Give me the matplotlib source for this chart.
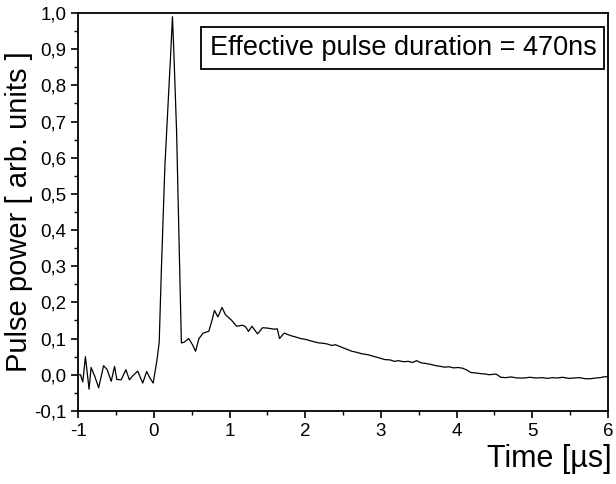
import matplotlib
matplotlib.use('Agg')
import matplotlib.pyplot as plt
from matplotlib.ticker import MultipleLocator, FuncFormatter

time_us = [
    -1.0, -0.97, -0.94, -0.905, -0.857, -0.83, -0.78, -0.73, -0.665, -0.62,
    -0.564, -0.52, -0.49, -0.433, -0.37, -0.324, -0.28, -0.214, -0.148, -0.096,
    -0.05, -0.01, 0.04, 0.07, 0.10, 0.145, 0.19, 0.22, 0.245, 0.262,
    0.30, 0.33, 0.363, 0.40, 0.43, 0.46, 0.51, 0.55, 0.595, 0.65,
    0.725, 0.77, 0.80, 0.845, 0.90, 0.945, 1.02, 1.093, 1.17, 1.21,
    1.25, 1.295, 1.37, 1.435, 1.50, 1.59, 1.63, 1.66, 1.72, 1.81,
    1.88, 1.94, 2.0, 2.05, 2.12, 2.18, 2.24, 2.29, 2.35, 2.40,
    2.47, 2.53, 2.615, 2.68, 2.75, 2.835, 2.9, 2.97, 3.05, 3.12,
    3.18, 3.23, 3.3, 3.36, 3.42, 3.47, 3.53, 3.6, 3.67, 3.73,
    3.79, 3.84, 3.9, 3.96, 4.02, 4.08, 4.125, 4.19, 4.25, 4.32,
    4.38, 4.43, 4.52, 4.585, 4.65, 4.72, 4.8, 4.89, 4.97, 5.05,
    5.13, 5.2, 5.27, 5.33, 5.4, 5.48, 5.55, 5.62, 5.7, 5.77,
    5.84, 5.9, 5.94, 6.0,
]
power = [
    0.0, 0.0, -0.02, 0.05, -0.04, 0.02, -0.005, -0.036, 0.025, 0.015,
    -0.018, 0.023, -0.013, -0.014, 0.014, -0.014, -0.003, 0.01, -0.023, 0.009,
    -0.01, -0.023, 0.04, 0.09, 0.30, 0.577, 0.76, 0.88, 0.99, 0.90,
    0.67, 0.39, 0.088, 0.09, 0.095, 0.10, 0.083, 0.065, 0.10, 0.115,
    0.12, 0.152, 0.178, 0.16, 0.186, 0.166, 0.152, 0.134, 0.137, 0.133,
    0.12, 0.134, 0.113, 0.13, 0.129, 0.126, 0.127, 0.10, 0.115, 0.108,
    0.104, 0.10, 0.098, 0.095, 0.091, 0.088, 0.087, 0.085, 0.081, 0.083,
    0.077, 0.072, 0.065, 0.062, 0.058, 0.055, 0.051, 0.047, 0.042, 0.041,
    0.037, 0.039, 0.036, 0.037, 0.034, 0.039, 0.033, 0.031, 0.028, 0.025,
    0.023, 0.021, 0.022, 0.019, 0.02, 0.018, 0.014, 0.006, 0.005, 0.003,
    0.002, 0.0, 0.002, -0.007, -0.008, -0.006, -0.009, -0.009, -0.007, -0.009,
    -0.008, -0.010, -0.008, -0.009, -0.007, -0.010, -0.009, -0.008, -0.011, -0.011,
    -0.009, -0.008, -0.006, -0.005,
]
x_ticks = [-1, 0, 1, 2, 3, 4, 5, 6]
y_ticks = [-0.1, 0.0, 0.1, 0.2, 0.3, 0.4, 0.5, 0.6, 0.7, 0.8, 0.9, 1.0]

plt.rcParams['font.family'] = ['Liberation Sans', 'DejaVu Sans']

fig = plt.figure(figsize=(6.16, 4.84), dpi=100)
ax = fig.add_axes([0.127, 0.151, 0.86, 0.822])

ax.plot(time_us, power, color='black', lw=0.9)

ax.set_xlim(-1, 6)
ax.set_ylim(-0.1, 1.0)
ax.set_xticks(x_ticks)
ax.set_yticks(y_ticks)
ax.xaxis.set_minor_locator(MultipleLocator(0.5))
ax.yaxis.set_minor_locator(MultipleLocator(0.05))
ax.yaxis.set_major_formatter(FuncFormatter(lambda v, p: '{:.1f}'.format(v).replace('.', ',')))
ax.xaxis.set_major_formatter(FuncFormatter(lambda v, p: '{:d}'.format(int(round(v)))))
ax.tick_params(which='major', direction='out', length=5, width=1.2, labelsize=13.5)
ax.tick_params(which='minor', direction='out', length=3, width=1.0)
for s in ax.spines.values():
    s.set_linewidth(1.3)

ax.set_ylabel('Pulse power [ arb. units ]', fontsize=21)
ax.yaxis.set_label_coords(-0.085, 0.5)
fig.text(0.993, 0.02, 'Time [\u00b5s]', fontsize=22, ha='right', va='bottom')

ax.text(0.978, 0.945, 'Effective pulse duration = 470ns', transform=ax.transAxes,
        fontsize=19.5, ha='right', va='top',
        bbox=dict(boxstyle='square,pad=0.3', fc='white', ec='black', lw=1.3))

fig.savefig('out.png', dpi=100)
